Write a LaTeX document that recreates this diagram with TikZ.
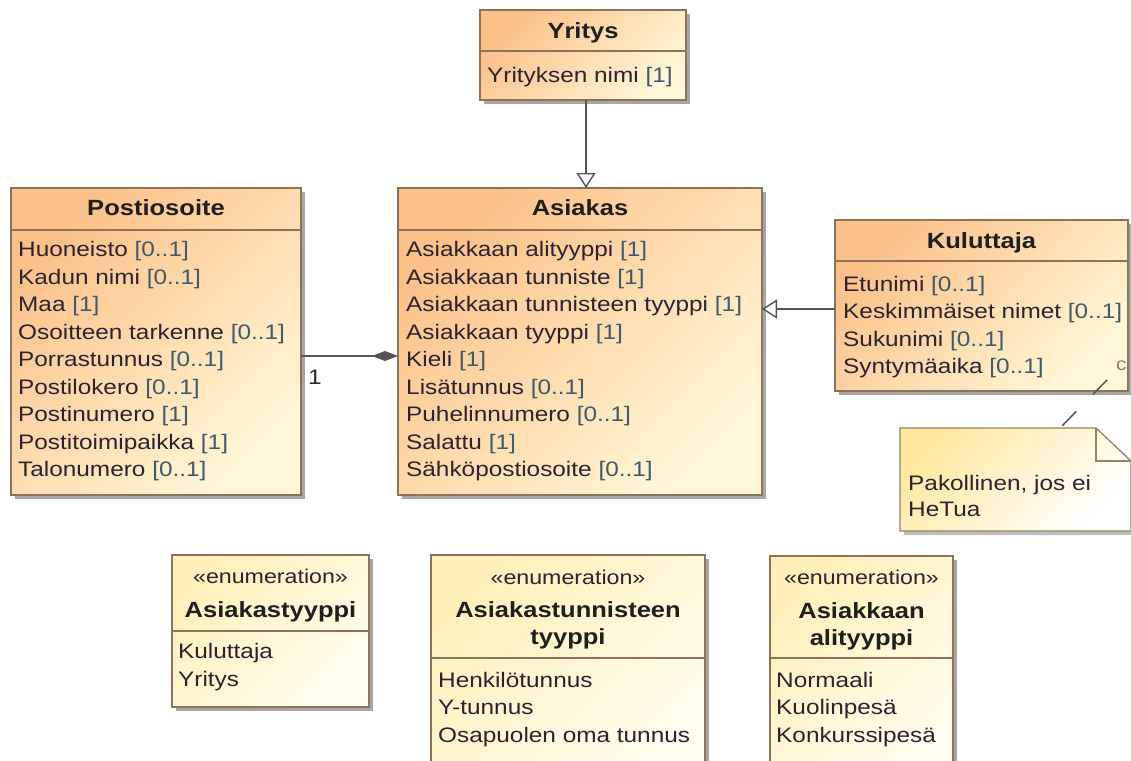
\documentclass[tikz,border=0pt]{standalone}
\usepackage{fontspec}
\setmainfont{Liberation Sans}[FakeStretch=1.16]
\usetikzlibrary{arrows.meta,shadows,calc}

\definecolor{clsA}{HTML}{FBC088}
\definecolor{clsM}{HTML}{FEDCB0}
\definecolor{clsB}{HTML}{FFF7D8}
\definecolor{enumA}{HTML}{FFF0BA}
\definecolor{enumB}{HTML}{FFFDF0}
\definecolor{noteA}{HTML}{FFE8A0}
\definecolor{noteB}{HTML}{FFFFFF}
\definecolor{edge}{HTML}{8E7259}
\definecolor{noteedge}{HTML}{8C8764}
\definecolor{ink}{HTML}{2D2330}
\definecolor{mult}{HTML}{3F5A68}
\definecolor{wire}{HTML}{555555}

\newcommand\itemfont{\fontsize{21}{25}\selectfont}
\newcommand\titlefont{\fontsize{22}{26}\selectfont\bfseries}
\newcommand\stereofont{\fontsize{20}{24}\selectfont}
\newcommand\mlt[1]{\textcolor{mult}{[#1]}}

\begin{document}
\begin{tikzpicture}[x=1pt,y=-1pt,
  box/.style={draw=edge, line width=1.3pt, inner sep=0pt, outer sep=0pt,
    anchor=north west,
    drop shadow={shadow xshift=4pt, shadow yshift=-4pt, fill=black, opacity=.35}},
  clsbox/.style={box, top color=clsA, bottom color=clsB, middle color=clsM, shading angle=45},
  enumbox/.style={box, top color=enumA, bottom color=enumB, shading angle=45},
  divider/.style={draw=edge, line width=1.3pt},
  titletext/.style={anchor=base, inner sep=0pt, font=\titlefont, text=black!88},
  stereotext/.style={anchor=base, inner sep=0pt, font=\stereofont, text=ink},
  itemtext/.style={anchor=base west, inner sep=0pt, font=\itemfont, text=ink},
  gen/.style={draw=wire, line width=1.5pt,
    -{Triangle[open, length=15pt, width=19pt, fill=white, line width=1.4pt]}},
  comp/.style={draw=wire, line width=1.5pt,
    {Diamond[length=26pt, width=10pt, fill=wire]}-},
  notelink/.style={draw=wire, line width=1.5pt, dash pattern=on 20pt off 24pt},
]
\useasboundingbox (0,0) rectangle (1131,760);
\fill[white] (0,0) rectangle (1131,760);

% ---------------- class boxes ----------------
\node[clsbox, minimum width=206pt, minimum height=90pt]  (yritys)    at (480,10)  {};
\node[clsbox, minimum width=290pt, minimum height=307pt] (posti)     at (11,188)  {};
\node[clsbox, minimum width=364pt, minimum height=307pt] (asiakas)   at (398,188) {};
\node[clsbox, minimum width=293pt, minimum height=171pt] (kuluttaja) at (835,220) {};

\draw[divider] ($(yritys.north west)+(0,41)$)    -- ($(yritys.north east)+(0,41)$);
\draw[divider] ($(posti.north west)+(0,42)$)     -- ($(posti.north east)+(0,42)$);
\draw[divider] ($(asiakas.north west)+(0,42)$)   -- ($(asiakas.north east)+(0,42)$);
\draw[divider] ($(kuluttaja.north west)+(0,41)$) -- ($(kuluttaja.north east)+(0,41)$);

% Yritys
\node[titletext] (yritys-t) at (583,39) {Yritys};
\node[itemtext]  (yritys-a1) at (487,82) {Yrityksen nimi \mlt{1}};

% Postiosoite
\node[titletext] (posti-t) at (156,215) {Postiosoite};
\foreach \t [count=\i] in {{Huoneisto \mlt{0..1}}, {Kadun nimi \mlt{0..1}},
    {Maa \mlt{1}}, {Osoitteen tarkenne \mlt{0..1}}, {Porrastunnus \mlt{0..1}},
    {Postilokero \mlt{0..1}}, {Postinumero \mlt{1}}, {Postitoimipaikka \mlt{1}},
    {Talonumero \mlt{0..1}}}
  \node[itemtext] (posti-a\i) at (18,{256.5+27.5*(\i-1)}) {\t};

% Asiakas
\node[titletext] (asiakas-t) at (580,215) {Asiakas};
\foreach \t [count=\i] in {{Asiakkaan alityyppi \mlt{1}}, {Asiakkaan tunniste \mlt{1}},
    {Asiakkaan tunnisteen tyyppi \mlt{1}}, {Asiakkaan tyyppi \mlt{1}},
    {Kieli \mlt{1}}, {Lisätunnus \mlt{0..1}}, {Puhelinnumero \mlt{0..1}},
    {Salattu \mlt{1}}, {Sähköpostiosoite \mlt{0..1}}}
  \node[itemtext] (asiakas-a\i) at (406,{256.5+27.5*(\i-1)}) {\t};

% Kuluttaja
\node[titletext] (kuluttaja-t) at (981.5,248) {Kuluttaja};
\foreach \t [count=\i] in {{Etunimi \mlt{0..1}}, {Keskimmäiset nimet \mlt{0..1}},
    {Sukunimi \mlt{0..1}}, {Syntymäaika \mlt{0..1}}}
  \node[itemtext] (kuluttaja-a\i) at (843,{291+27.5*(\i-1)}) {\t};
\node[anchor=base west, inner sep=0pt, font=\fontsize{18}{20}\selectfont, text=black!50]
  (kuluttaja-c) at (1116,370) {c};

% ---------------- enumerations ----------------
\node[enumbox, minimum width=197pt, minimum height=152pt] (e-tyyppi) at (172,555) {};
\node[enumbox, minimum width=274pt, minimum height=230pt] (e-tunn)   at (431,555) {};
\node[enumbox, minimum width=183pt, minimum height=230pt] (e-ali)    at (770,556) {};

\draw[divider] ($(e-tyyppi.north west)+(0,76)$) -- ($(e-tyyppi.north east)+(0,76)$);
\draw[divider] ($(e-tunn.north west)+(0,103)$)  -- ($(e-tunn.north east)+(0,103)$);
\draw[divider] ($(e-ali.north west)+(0,102)$)   -- ($(e-ali.north east)+(0,102)$);

% Asiakastyyppi
\node[stereotext] (e-tyyppi-s) at (270.5,583) {«enumeration»};
\node[titletext]  (e-tyyppi-t) at (270.5,617) {Asiakastyyppi};
\node[itemtext] (e-tyyppi-a1) at (178,658) {Kuluttaja};
\node[itemtext] (e-tyyppi-a2) at (178,686) {Yritys};

% Asiakastunnisteen tyyppi
\node[stereotext] (e-tunn-s)  at (568,584) {«enumeration»};
\node[titletext]  (e-tunn-t1) at (568,617) {Asiakastunnisteen};
\node[titletext]  (e-tunn-t2) at (568,644) {tyyppi};
\node[itemtext] (e-tunn-a1) at (438,687) {Henkilötunnus};
\node[itemtext] (e-tunn-a2) at (438,714.5) {Y-tunnus};
\node[itemtext] (e-tunn-a3) at (438,742) {Osapuolen oma tunnus};

% Asiakkaan alityyppi
\node[stereotext] (e-ali-s)  at (861.5,584) {«enumeration»};
\node[titletext]  (e-ali-t1) at (861.5,618) {Asiakkaan};
\node[titletext]  (e-ali-t2) at (861.5,645) {alityyppi};
\node[itemtext] (e-ali-a1) at (776,687) {Normaali};
\node[itemtext] (e-ali-a2) at (776,714.5) {Kuolinpesä};
\node[itemtext] (e-ali-a3) at (776,742) {Konkurssipesä};

% ---------------- note ----------------
\node[inner sep=0pt, outer sep=0pt, anchor=north west,
      minimum width=231pt, minimum height=103pt] (note) at (900,428) {};
\path[draw=noteedge, line width=1.3pt, top color=noteA, bottom color=noteB,
      shading angle=45,
      drop shadow={shadow xshift=4pt, shadow yshift=-4pt, fill=black, opacity=.25}]
  (note.north west) -- ($(note.north east)+(-35,0)$) -- ($(note.north east)+(0,33)$)
  -- (note.south east) -- (note.south west) -- cycle;
\draw[draw=noteedge, line width=1.3pt]
  ($(note.north east)+(-35,0)$) -- ($(note.north east)+(-35,33)$) -- ($(note.north east)+(0,33)$);
\node[itemtext] (note-l1) at (908,490) {Pakollinen, jos ei};
\node[itemtext] (note-l2) at (908,516) {HeTua};

% ---------------- connectors ----------------
\coordinate (yr-out) at ($(yritys.south)+(3,0)$);
\draw[gen] (yr-out) -- (yr-out |- asiakas.north);

\coordinate (ku-out) at ($(kuluttaja.north west)+(0,89)$);
\draw[gen] (ku-out) -- (ku-out -| asiakas.east);

\coordinate (as-in) at ($(asiakas.north west)+(0,168)$);
\draw[comp] (as-in) -- (as-in -| posti.east);
\node[anchor=base west, inner sep=0pt, font=\itemfont, text=ink] (mult-1) at (308,384) {1};

\coordinate (ku-anchor) at (1107,380);
\coordinate (note-anchor) at ($(note.north west)+(160,0)$);
\draw[notelink] (ku-anchor) -- (note-anchor);
\end{tikzpicture}
\end{document}
